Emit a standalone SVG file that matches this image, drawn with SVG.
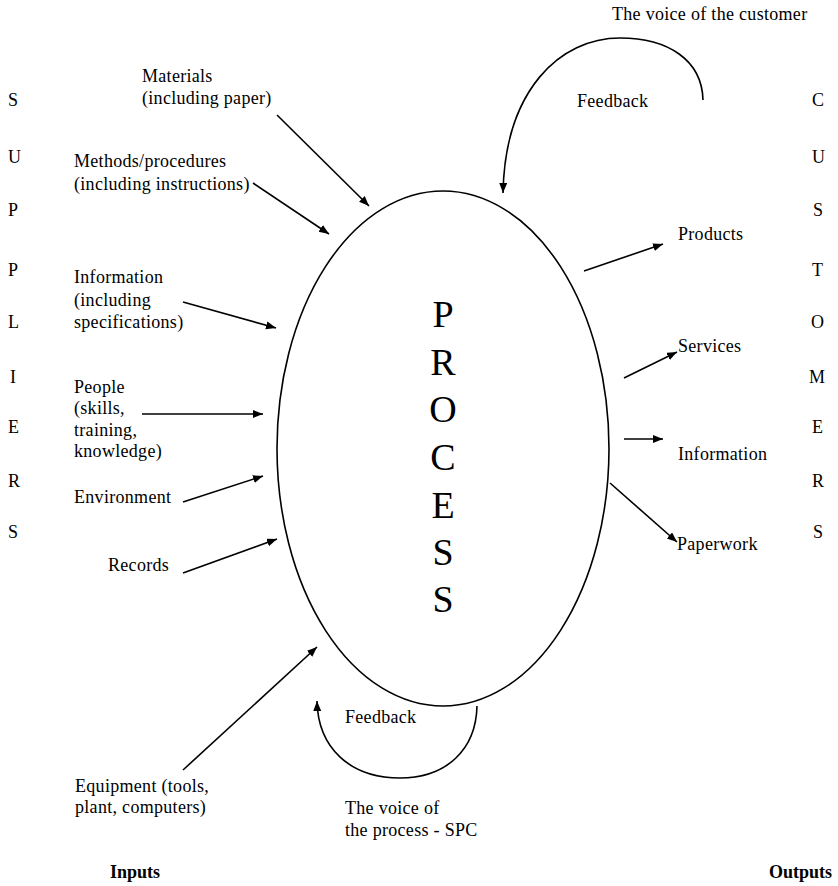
<svg xmlns="http://www.w3.org/2000/svg" width="838" height="886" viewBox="0 0 838 886" font-family="'Liberation Serif', 'Times New Roman', serif">
<style>
text{font-family:"Liberation Serif","Times New Roman",serif;fill:#000}
.t{font-size:18px;letter-spacing:0.3px}
.b{font-size:18px;font-weight:bold}
.l{font-size:18px}
.p{font-size:38px;text-anchor:middle}
.c{stroke:#000;stroke-width:1.6;fill:none}
.a{marker-end:url(#ah)}
</style>
<defs>
<marker id="ah" markerUnits="userSpaceOnUse" markerWidth="12" markerHeight="10" refX="10" refY="4" orient="auto">
<path d="M0,0 L10,4 L0,8 Z" fill="#000"/>
</marker>
</defs>
<rect width="838" height="886" fill="#fff"/>
<g id="process">
<ellipse cx="443" cy="448.5" rx="166" ry="257.5" fill="none" stroke="#000" stroke-width="1.6"/>
<text class="p" x="443" y="327">P</text>
<text class="p" x="443" y="375">R</text>
<text class="p" x="443" y="422">O</text>
<text class="p" x="443" y="470">C</text>
<text class="p" x="443" y="518">E</text>
<text class="p" x="443" y="565">S</text>
<text class="p" x="443" y="612">S</text>
</g>
<g id="suppliers" class="l">
<text x="8" y="106">S</text>
<text x="8" y="163">U</text>
<text x="8" y="216">P</text>
<text x="8" y="276">P</text>
<text x="8" y="328">L</text>
<text x="10" y="383">I</text>
<text x="8" y="433">E</text>
<text x="8" y="487">R</text>
<text x="8" y="538">S</text>
</g>
<g id="customers" class="l">
<text x="812" y="106">C</text>
<text x="812" y="163">U</text>
<text x="813" y="216">S</text>
<text x="812" y="276">T</text>
<text x="811" y="328">O</text>
<text x="809" y="383">M</text>
<text x="812" y="433">E</text>
<text x="812" y="487">R</text>
<text x="813" y="538">S</text>
</g>
<g id="in-materials" class="t"><text x="142" y="82">Materials</text><text x="142" y="104">(including paper)</text></g>
<g id="in-methods" class="t"><text x="74" y="167">Methods/procedures</text><text x="74" y="190">(including instructions)</text></g>
<g id="in-information" class="t"><text x="74" y="283">Information</text><text x="74" y="306">(including</text><text x="74" y="328">specifications)</text></g>
<g id="in-people" class="t"><text x="74" y="393">People</text><text x="74" y="414">(skills,</text><text x="74" y="436">training,</text><text x="74" y="457">knowledge)</text></g>
<g id="in-environment" class="t"><text x="74" y="503">Environment</text></g>
<g id="in-records" class="t"><text x="108" y="571">Records</text></g>
<g id="in-equipment" class="t"><text x="75" y="792">Equipment (tools,</text><text x="75" y="813">plant, computers)</text></g>
<g id="out-products" class="t"><text x="678" y="240">Products</text></g>
<g id="out-services" class="t"><text x="678" y="352">Services</text></g>
<g id="out-information" class="t"><text x="678" y="460">Information</text></g>
<g id="out-paperwork" class="t"><text x="677" y="550">Paperwork</text></g>
<g id="voice-customer" class="t"><text x="612" y="20">The voice of the customer</text><text x="577" y="107">Feedback</text></g>
<g id="voice-process" class="t"><text x="345" y="723">Feedback</text><text x="345" y="814">The voice of</text><text x="345" y="836">the process - SPC</text></g>
<g id="labels"><text class="b" x="110" y="878">Inputs</text><text class="b" x="832" y="878" text-anchor="end">Outputs</text></g>
<g id="connectors">
<path class="c a" d="M277,115 L369,206"/>
<path class="c a" d="M253,183 L329,234"/>
<path class="c a" d="M183,302 L276,328"/>
<path class="c a" d="M142,414 L263,414"/>
<path class="c a" d="M183,502 L263,476"/>
<path class="c a" d="M183,573 L277,539"/>
<path class="c a" d="M183,770 L317,647"/>
<path class="c a" d="M584,271 L663,244"/>
<path class="c a" d="M624,378 L677,352"/>
<path class="c a" d="M624,439 L663,439"/>
<path class="c a" d="M610,483 L677,542"/>
<path class="c a" d="M703,100 C702,60 668,38 620,38 C560,38 505,90 503,193"/>
<path class="c a" d="M477,706 C476,750 446,778 400,778 C350,778 318,748 317,701"/>
</g>
</svg>
